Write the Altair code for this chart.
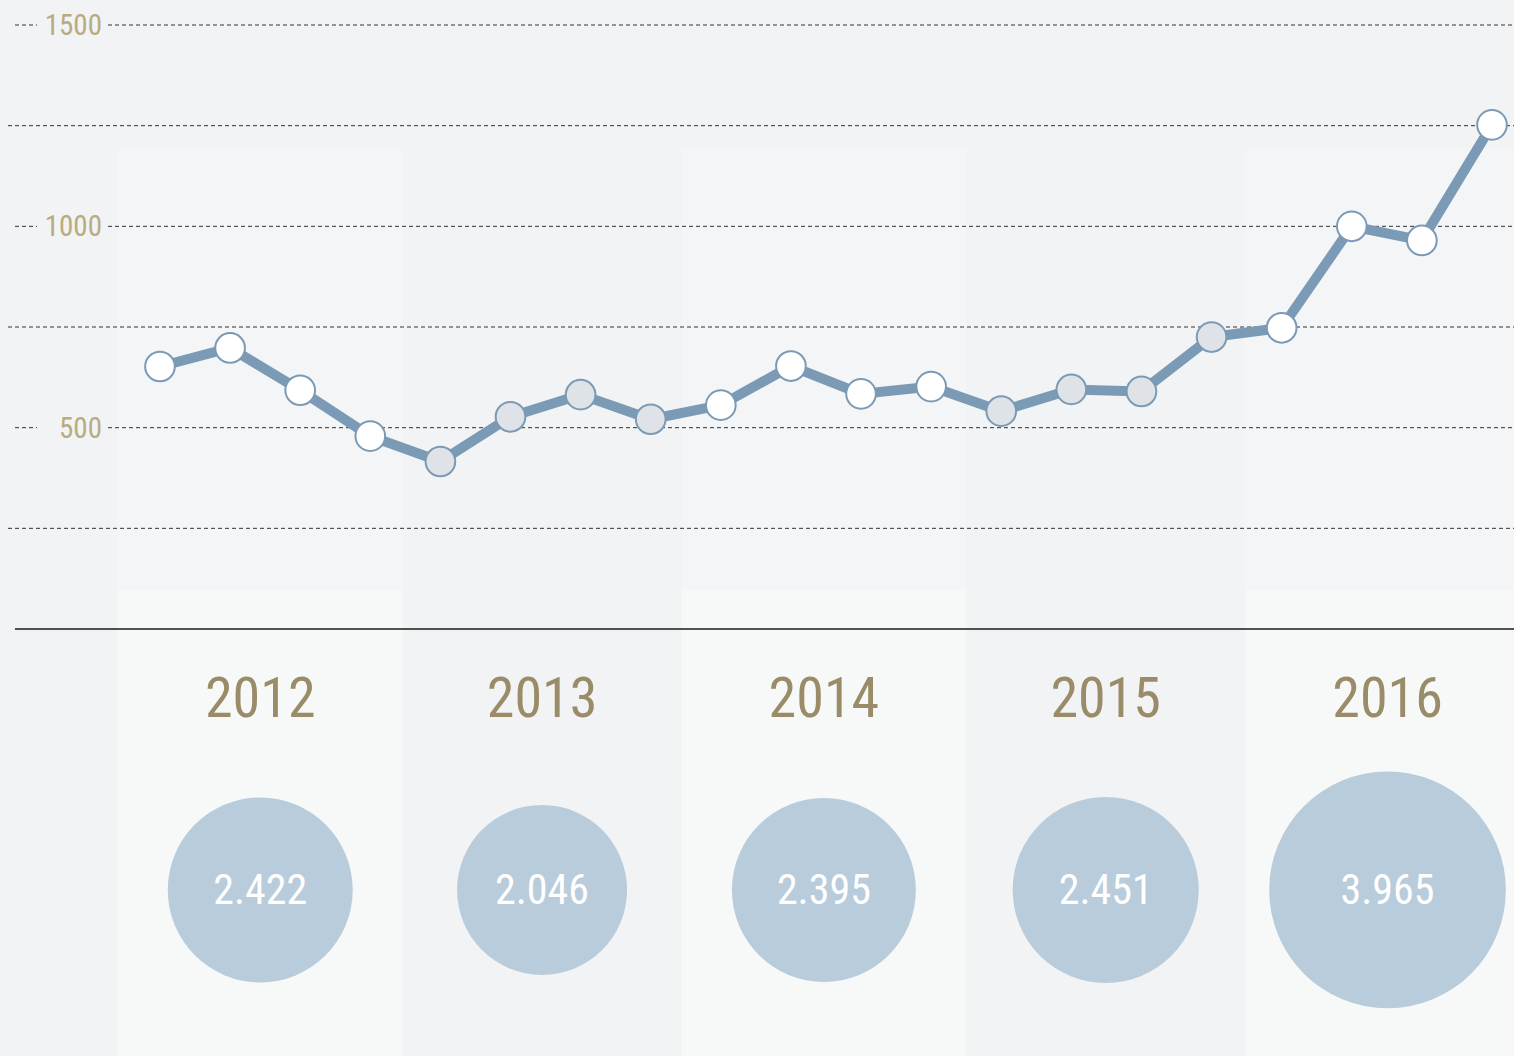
import altair as alt
import pandas as pd

# ---- data ----
years = [2012, 2013, 2014, 2015, 2016]
year_totals = [2422, 2046, 2395, 2451, 3965]
quarter_values = [652, 698, 593, 479,
                  416, 527, 582, 521,
                  556, 653, 584, 602,
                  541, 595, 590, 725,
                  748, 1000, 965, 1252]
grid_labeled = [500, 1000, 1500]
grid_unlabeled = [250, 750, 1250]

# ---- layout constants ----
W, H = 1514, 1056
BG = "#f2f3f5"
X_DOM = [-2.282, 19.314]
Y_DOM = [-1060.4, 1562.1]
FONT = "Roboto Condensed, Open Sans Condensed, Liberation Sans Narrow, Arial Narrow, Roboto, sans-serif"
YEAR_LABEL_Y = -169
BUBBLE_Y = -648

xs = alt.Scale(domain=X_DOM, range=[0, W], nice=False, zero=False)
ys = alt.Scale(domain=Y_DOM, range=[H, 0], nice=False, zero=False)

pts = pd.DataFrame({
    "i": list(range(len(quarter_values))),
    "v": quarter_values,
    "year": [years[k // 4] for k in range(len(quarter_values))],
})
pts["odd"] = pts["year"].map(lambda y: (y - years[0]) % 2)

yr = pd.DataFrame({"year": years, "total": year_totals})
yr["k"] = range(len(years))
yr["xc"] = yr["k"] * 4.02 + 1.43
yr["xs"] = yr["xc"] - 2.03
yr["xe"] = yr["xc"] + 2.03
yr["label"] = yr["total"].map(lambda v: f"{v:,}".replace(",", "."))
yr["ylab"] = YEAR_LABEL_Y
yr["ybub"] = BUBBLE_Y
yr["ystr"] = yr["year"].astype(str)
light = yr[yr["k"] % 2 == 0]

bands_top = alt.Chart(light).mark_rect(color="#f4f5f6").encode(
    x=alt.X("xs:Q", scale=xs, axis=None), x2="xe:Q",
    y=alt.value(148), y2=alt.value(590))
bands_bot = alt.Chart(light).mark_rect(color="#f7f8f8").encode(
    x=alt.X("xs:Q", scale=xs, axis=None), x2="xe:Q",
    y=alt.value(590), y2=alt.value(H))

gl = pd.DataFrame({"g": grid_labeled})
gu = pd.DataFrame({"g": grid_unlabeled})
dash = dict(color="#333333", strokeWidth=1, strokeDash=[4, 3])
grid_u = alt.Chart(gu).mark_rule(**dash).encode(
    y=alt.Y("g:Q", scale=ys, axis=None), x=alt.value(8), x2=alt.value(W))
grid_lr = alt.Chart(gl).mark_rule(**dash).encode(
    y=alt.Y("g:Q", scale=ys, axis=None), x=alt.value(108), x2=alt.value(W))
grid_ll = alt.Chart(gl).mark_rule(**dash).encode(
    y=alt.Y("g:Q", scale=ys, axis=None), x=alt.value(15), x2=alt.value(37))
grid_txt = alt.Chart(gl).mark_text(
    align="right", baseline="middle", font=FONT, fontSize=29, color="#b9ab80", dy=1
).encode(y=alt.Y("g:Q", scale=ys, axis=None), x=alt.value(102), text="g:Q")

base = alt.Chart(pd.DataFrame({"g": [0]})).mark_rule(color="#1a1a1a", strokeWidth=1.3).encode(
    y=alt.Y("g:Q", scale=ys, axis=None), x=alt.value(15), x2=alt.value(W))

line = alt.Chart(pts).mark_line(color="#7a9ab5", strokeWidth=10).encode(
    x=alt.X("i:Q", scale=xs, axis=None), y=alt.Y("v:Q", scale=ys, axis=None))
dots = alt.Chart(pts).mark_point(filled=True, size=880, stroke="#7a9ab5",
                                 strokeWidth=2, opacity=1).encode(
    x=alt.X("i:Q", scale=xs, axis=None), y=alt.Y("v:Q", scale=ys, axis=None),
    fill=alt.Fill("odd:N", scale=alt.Scale(domain=[0, 1], range=["#ffffff", "#dfe2e6"]),
                  legend=None))

ylabels = alt.Chart(yr).mark_text(
    font=FONT, fontSize=56, color="#9a8c68", baseline="middle", align="center", dy=3
).encode(x=alt.X("xc:Q", scale=xs, axis=None), y=alt.Y("ylab:Q", scale=ys, axis=None),
         text="ystr:N")

bubbles = alt.Chart(yr).mark_circle(color="#b8ccdc", opacity=1).encode(
    x=alt.X("xc:Q", scale=xs, axis=None), y=alt.Y("ybub:Q", scale=ys, axis=None),
    size=alt.Size("total:Q", scale=alt.Scale(domain=[0, 4000], range=[0, 56500], zero=True),
                  legend=None))
btext = alt.Chart(yr).mark_text(
    font=FONT, fontSize=42, color="#ffffff", baseline="middle", align="center", dy=1
).encode(x=alt.X("xc:Q", scale=xs, axis=None), y=alt.Y("ybub:Q", scale=ys, axis=None),
         text="label:N")

chart = alt.layer(
    bands_top, bands_bot, grid_u, grid_lr, grid_ll, grid_txt, base,
    line, dots, ylabels, bubbles, btext
).properties(
    width=W, height=H, background=BG, padding=0,
    autosize=alt.AutoSizeParams(type="none")
).configure_view(strokeWidth=0).resolve_scale(fill="independent", size="independent")

chart.save("out.html", embed_options={"renderer": "svg", "actions": False})
